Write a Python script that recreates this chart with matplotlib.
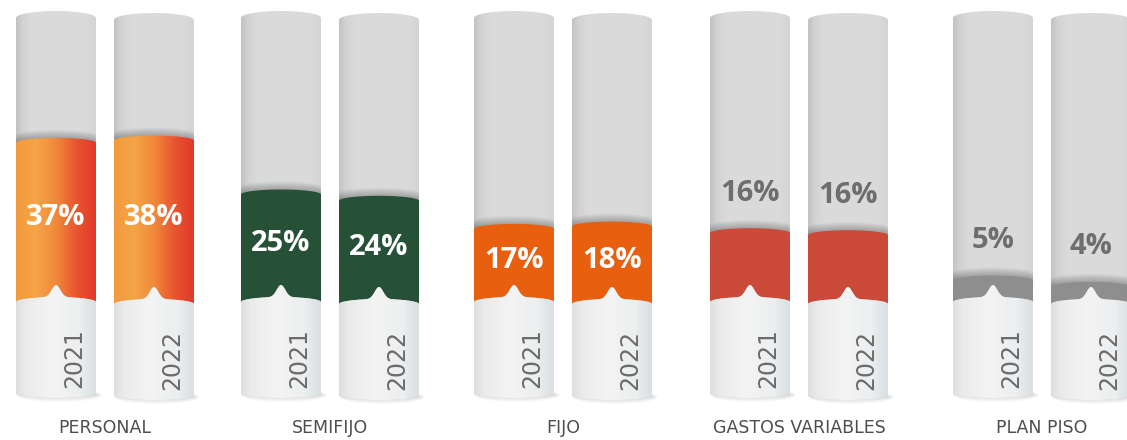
import numpy as np
import matplotlib
matplotlib.use("Agg")
import matplotlib.pyplot as plt
from matplotlib.patches import Polygon, Ellipse
from matplotlib.colors import LinearSegmentedColormap

# ---------------- data ----------------
categories = ["PERSONAL", "SEMIFIJO", "FIJO", "GASTOS VARIABLES", "PLAN PISO"]
years = ["2021", "2022"]
values_2021 = [37, 25, 17, 16, 5]
values_2022 = [38, 24, 18, 16, 4]

# ---------------- layout / style ----------------
W, H = 1127, 440
K = 4.3            # pixels per percentage point
BASE_PX = 302      # pixel row of the 0 % level
group_x = [56, 281, 514, 750, 993]   # centre of the 2021 cylinder in each group
pair_dx = 98
year_drop = [0, 2]                   # 2022 cylinders sit slightly lower
half_w = 40

band_styles = [
    ["#f29a3e", "#f5a446", "#f08a3b", "#e9552f", "#e2392a"],  # personal gradient
    ["#265137", "#265137"],
    ["#e8600f", "#e8600f"],
    ["#cb4a3a", "#cb4a3a"],
    ["#8e8e8e", "#8e8e8e"],
]
body_cmap = LinearSegmentedColormap.from_list(
    "body", [(0, "#c2c2c2"), (0.08, "#d2d2d2"), (0.2, "#dadada"), (0.85, "#dbdbdb"), (1, "#d4d4d4")])
base_cmap = LinearSegmentedColormap.from_list(
    "base", [(0, "#dedede"), (0.12, "#ebebeb"), (0.45, "#f4f4f4"), (0.8, "#eceeef"), (1, "#d9dfe2")])

fig = plt.figure(figsize=(W / 100, H / 100), dpi=100)
ax = fig.add_axes([0, 0, 1, 1])


def u(px):
    return px / K


def grad_fill(xy, cmap, x0, x1, y0, y1, z):
    patch = Polygon(xy, closed=True, facecolor="none", edgecolor="none")
    ax.add_patch(patch)
    g = np.linspace(0, 1, 256).reshape(1, -1)
    im = ax.imshow(g, cmap=cmap, extent=[x0, x1, y0, y1], aspect="auto",
                   zorder=z, interpolation="bilinear")
    im.set_clip_path(patch)
    return patch


for gi, cat in enumerate(categories):
    for yi, vals in enumerate([values_2021, values_2022]):
        v = vals[gi]
        cx = group_x[gi] + yi * pair_dx
        z0 = -u(year_drop[yi])
        xs = np.linspace(cx - half_w, cx + half_w, 400)
        t = (xs - cx) / half_w
        arc = np.sqrt(np.clip(1 - t ** 2, 0, 1))

        top_y = z0 + u(284) + u(7) * arc
        bot_y = z0 - u(91) - u(5) * arc
        base_top = z0 + u(5) * arc + u(12) * np.exp(-((xs - cx) / 6.0) ** 2)
        band_top = z0 + v + u(5) * arc

        # soft floor shadow
        for i in range(6):
            ax.add_patch(Ellipse((cx + 3, z0 - u(93)), 2 * half_w + 6 - i * 2, u(14 - i * 2),
                                 facecolor="#000000", alpha=0.025, edgecolor="none", zorder=1))

        # grey cylinder body
        body_xy = np.column_stack([np.concatenate([xs, xs[::-1]]),
                                   np.concatenate([top_y, bot_y[::-1]])])
        body = grad_fill(body_xy, body_cmap, cx - half_w, cx + half_w,
                         bot_y.min(), top_y.max(), 2)

        # shadow above the band
        for i in range(1, 9):
            sh_xy = np.column_stack([np.concatenate([xs, xs[::-1]]),
                                     np.concatenate([band_top + u(i), base_top[::-1]])])
            p = Polygon(sh_xy, closed=True, facecolor="#000000", alpha=0.03,
                        edgecolor="none", zorder=3)
            ax.add_patch(p)
            p.set_clip_path(body)

        # coloured band
        cmap = LinearSegmentedColormap.from_list("band%d" % gi, band_styles[gi])
        band_xy = np.column_stack([np.concatenate([xs, xs[::-1]]),
                                   np.concatenate([band_top, base_top[::-1]])])
        grad_fill(band_xy, cmap, cx - half_w, cx + half_w, base_top.min(), band_top.max(), 4)

        # white base
        base_xy = np.column_stack([np.concatenate([xs, xs[::-1]]),
                                   np.concatenate([base_top, bot_y[::-1]])])
        grad_fill(base_xy, base_cmap, cx - half_w, cx + half_w, bot_y.min(), base_top.max(), 5)

        # value label
        if v >= 17:
            ax.text(cx, z0 + v / 2 + u(5), f"{v}%", color="white", fontsize=21,
                    fontweight="bold", family=["Open Sans", "DejaVu Sans"],
                    ha="center", va="center", zorder=6)
        else:
            ax.text(cx, z0 + v + u(40), f"{v}%", color="#6e6e6e", fontsize=21,
                    fontweight="bold", family=["Open Sans", "DejaVu Sans"],
                    ha="center", va="center", zorder=6)

        # year label
        ax.text(cx + 18, z0 - u(86), years[yi], rotation=90, color="#6b6b6b",
                fontsize=17, family=["DejaVu Sans"], ha="center", va="bottom", zorder=6)

    ax.text(group_x[gi] + pair_dx / 2, -u(428 - BASE_PX), cat, color="#4d4d4d",
            fontsize=12.5, family=["DejaVu Sans"], ha="center", va="center")

ax.set_xlim(0, W)
ax.set_ylim(-(H - BASE_PX) / K, BASE_PX / K)
ax.axis("off")
fig.savefig("out.png", dpi=100, facecolor="white")
